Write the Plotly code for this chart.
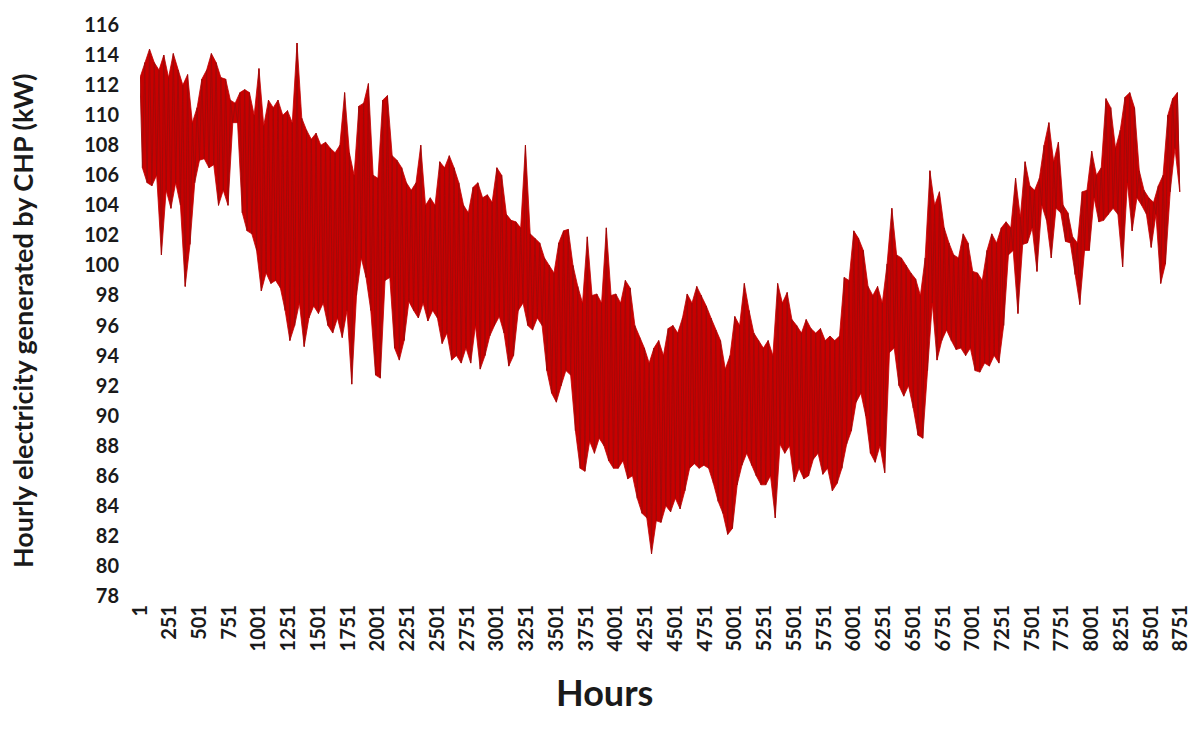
import plotly.graph_objects as go

# Hourly CHP output read off the chart as alternating high / low values,
# one pair per 40-hour block (block k starts at hour 1 + 40*k)
high_h1_1000 = [112.5, 113.5, 114.4, 113.5, 113, 114, 112.5, 114.1, 113, 112, 112.7, 109.5, 110.5,
                112.4, 113, 114.1, 113.5, 112.5, 112.4, 111, 110.8, 111.5, 111.7, 111.5, 110]
low_h1_1000 = [106.5, 105.5, 105.3, 106, 100.7, 105, 103.8, 105.5, 104, 98.6, 101.4, 105.5, 107,
               107.1, 106.5, 106.7, 104, 105, 104, 109.5, 109.5, 103.5, 102.3, 102.1, 101]

high_h1001_2000 = [113.1, 109.3, 111, 110.5, 111, 110, 110.3, 109.5, 114.8, 109.8, 109, 108.4, 108.8,
                   108, 108.2, 107.8, 107.5, 108, 111.5, 107.5, 106, 110.6, 110.8, 112.1, 106]
low_h1001_2000 = [98.3, 99.5, 98.8, 99, 98.5, 97, 95, 96, 97.5, 94.6, 96.5, 97.3, 96.8,
                  97.5, 96, 95.5, 96.5, 95.2, 97, 92.1, 98, 100.5, 99.2, 97, 92.7]

high_h2001_3000 = [105.8, 111, 111.3, 107.3, 107, 106.5, 105.5, 105, 105.5, 108, 104, 104.5, 104,
                   106.9, 106.5, 107.3, 106.5, 105.5, 104, 103.5, 105.2, 105.5, 104.5, 104.7, 104.2]
low_h2001_3000 = [92.5, 99, 99.2, 94.5, 93.7, 95, 97.6, 97, 96.5, 97.5, 96.3, 97, 96.5,
                  94.8, 95.5, 93.7, 94, 93.5, 94.5, 93.5, 96, 93.1, 94, 95.3, 96]

high_h3001_4000 = [106.5, 106, 103.4, 103, 102.9, 102.5, 108, 102.1, 101.8, 101.5, 100.5, 100, 99.5,
                   101.5, 102.3, 102.4, 100, 98.6, 97.5, 101.9, 98, 98.1, 97.5, 102.5, 98]
low_h3001_4000 = [96.6, 95.5, 93.3, 94, 97, 97.5, 96, 95.7, 96.5, 96, 93, 91.5, 90.9,
                  92, 93, 92.7, 89, 86.5, 86.3, 88.3, 87.5, 88.5, 88, 87, 86.5]

high_h4001_5000 = [98.1, 97.5, 99, 98.5, 96, 95.2, 94.5, 93.5, 94.5, 95, 94, 95.8, 96,
                   95.5, 96.5, 98.1, 97.5, 98.6, 98, 97.3, 96.5, 95.7, 95, 93.1, 94]
low_h4001_5000 = [86.5, 87, 85.8, 86, 84.5, 83.5, 83.2, 80.8, 83, 82.9, 84, 83.6, 84.5,
                  83.8, 85, 86.5, 86.8, 86.5, 86.7, 86.5, 85.5, 84.3, 83.5, 82.1, 82.5]

high_h5001_6000 = [96.6, 96, 98.8, 97, 95.5, 95, 94.5, 95, 94, 98.8, 97.5, 98.2, 96.4,
                   96, 95.5, 96.4, 95.8, 95.5, 95.8, 95, 95.3, 95, 95.3, 99.2, 99]
low_h5001_6000 = [85.4, 86.7, 87.5, 86.7, 86, 85.4, 85.4, 86, 83.2, 88.1, 87.5, 88, 85.6,
                  86.5, 85.8, 86, 87.1, 87.5, 86.1, 86.5, 85, 85.5, 86.5, 88.1, 89]

high_h6001_7000 = [102.3, 101.8, 101, 98.6, 98, 98.6, 97.5, 100.1, 103.8, 100.7, 100.5, 100, 99.5,
                   99.1, 98, 100.5, 106.3, 104, 104.9, 102.5, 101.5, 100.7, 100.5, 102.1, 101.5]
low_h6001_7000 = [90.9, 91.5, 90, 87.5, 86.9, 88, 86.2, 94.2, 94.5, 92, 91.3, 92, 90.5,
                  88.7, 88.5, 93, 97.5, 93.7, 95, 95.7, 95, 94.4, 94.5, 94, 94.5]

high_h7001_8000 = [99.6, 99.5, 99, 101, 102.1, 101.5, 102.5, 102.9, 102.5, 105.8, 103.2, 106.9, 105.3,
                   105, 105.8, 108, 109.5, 106.9, 108.2, 104, 103.5, 101.9, 101.5, 104.9, 105]
low_h7001_8000 = [93, 92.9, 93.5, 93.3, 94, 93.5, 96, 100.7, 101, 96.8, 101.4, 101.5, 102.5,
                  99.6, 104, 103, 100.5, 103.8, 103.5, 101.6, 101.5, 99.4, 97.4, 101, 101]

high_h8001_8760 = [107.6, 106, 106.5, 111.1, 110.5, 107.8, 109, 111.2, 111.5, 110.5, 106.3, 105, 104.5,
                   104.2, 105.3, 106, 110, 111.1, 111.5]
low_h8001_8760 = [104.5, 102.9, 103, 103.4, 103.8, 103.4, 99.9, 105.5, 102.3, 104.5, 104, 103.4, 101.2,
                  103.4, 98.8, 100.1, 104.9, 107.8, 104.9]

tick_hours = [1, 251, 501, 751, 1001, 1251, 1501, 1751, 2001, 2251, 2501, 2751, 3001, 3251, 3501,
              3751, 4001, 4251, 4501, 4751, 5001, 5251, 5501, 5751, 6001, 6251, 6501, 6751, 7001,
              7251, 7501, 7751, 8001, 8251, 8501, 8751]
y_ticks = list(range(78, 117, 2))

highs = (high_h1_1000 + high_h1001_2000 + high_h2001_3000 + high_h3001_4000 + high_h4001_5000
         + high_h5001_6000 + high_h6001_7000 + high_h7001_8000 + high_h8001_8760)
lows = (low_h1_1000 + low_h1001_2000 + low_h2001_3000 + low_h3001_4000 + low_h4001_5000
        + low_h5001_6000 + low_h6001_7000 + low_h7001_8000 + low_h8001_8760)

high_hours = [1 + 40 * k for k in range(len(highs))]
low_hours = [21 + 40 * k for k in range(len(lows))]

hours, values = [], []
for hh, h, lh, l in zip(high_hours, highs, low_hours, lows):
    hours += [hh, lh]
    values += [h, l]

FONT = "Lato"
fig = go.Figure()
# solid body between the high and low readings
fig.add_trace(go.Scatter(x=high_hours + low_hours[::-1], y=highs + lows[::-1],
                         mode="lines", fill="toself", fillcolor="#c80000",
                         line=dict(color="#c00000", width=0.8), showlegend=False,
                         hoverinfo="skip"))
# hourly trace texture
fig.add_trace(go.Scatter(x=hours, y=values, mode="lines",
                         line=dict(color="#9e0a0a", width=0.9), showlegend=False))

fig.update_layout(
    width=1203, height=738,
    margin=dict(l=140, r=15, t=18, b=142),
    paper_bgcolor="white", plot_bgcolor="white",
    font=dict(family=FONT, color="#1a1a1a"),
    xaxis=dict(range=[1, 8760], tickmode="array", tickvals=tick_hours,
               ticktext=[str(t) for t in tick_hours], tickangle=-90,
               tickfont=dict(family=FONT, size=20, weight="bold"),
               showgrid=False, zeroline=False, showline=False, ticks="", ticklabelstandoff=4),
    yaxis=dict(range=[78, 116], tickmode="array", tickvals=y_ticks,
               tickfont=dict(family=FONT, size=20, weight="bold"),
               showgrid=False, zeroline=False, showline=False, ticks="", ticklabelstandoff=20),
)

pw, ph = 1203 - 140 - 15, 738 - 18 - 142


def px_to_paper(px, py):
    return (px - 140) / pw, ((738 - py) - 142) / ph


hx, hy = px_to_paper(607, 693)
tx, ty = px_to_paper(22, 317)
fig.add_annotation(text="<b>Hours</b>", x=hx, y=hy, xref="paper", yref="paper",
                   xanchor="center", yanchor="middle", showarrow=False,
                   font=dict(family=FONT, size=36))
fig.add_annotation(text="<b>Hourly electricity generated by CHP (kW)</b>", textangle=-90,
                   x=tx, y=ty, xref="paper", yref="paper", xanchor="center", yanchor="middle",
                   showarrow=False, font=dict(family=FONT, size=27))

fig.write_html("out.html")
